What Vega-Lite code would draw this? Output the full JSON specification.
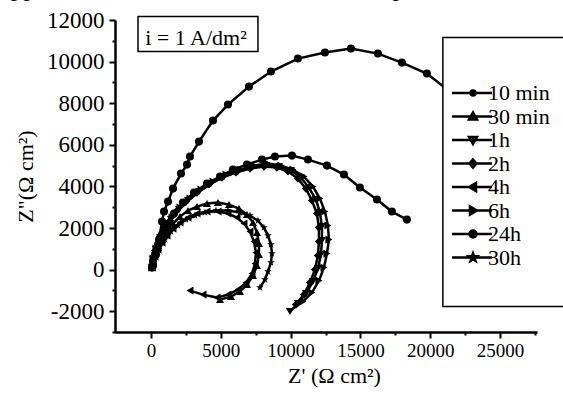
{
  "$schema": "https://vega.github.io/schema/vega-lite/v6.json",
  "width": 422,
  "height": 312,
  "autosize": {"type": "none"},
  "padding": {"left": 115, "top": 20, "right": 26, "bottom": 65},
  "background": "white",
  "config": {
    "view": {"stroke": null},
    "axis": {
      "grid": false,
      "domainColor": "black",
      "domainWidth": 2.5,
      "tickColor": "black",
      "tickWidth": 2,
      "labelColor": "black",
      "labelFont": "Liberation Serif",
      "titleFont": "Liberation Serif",
      "titleFontWeight": "normal",
      "titleColor": "black",
      "titleFontSize": 22,
      "labelOverlap": false,
      "labelFlush": false
    }
  },
  "datasets": {
    "curves": [
      {"s":"10 min","i":0,"x":150,"y":200},{"s":"10 min","i":1,"x":360,"y":720},{"s":"10 min","i":2,"x":573,"y":1442},{"s":"10 min","i":3,"x":788,"y":2308},{"s":"10 min","i":4,"x":931,"y":2789},{"s":"10 min","i":5,"x":1217,"y":3269},{"s":"10 min","i":6,"x":1575,"y":3894},{"s":"10 min","i":7,"x":2148,"y":4616},{"s":"10 min","i":8,"x":2578,"y":5048},{"s":"10 min","i":9,"x":2792,"y":5433},{"s":"10 min","i":10,"x":3437,"y":6154},{"s":"10 min","i":11,"x":4439,"y":7164},{"s":"10 min","i":12,"x":5513,"y":7933},{"s":"10 min","i":13,"x":7017,"y":8798},{"s":"10 min","i":14,"x":8592,"y":9520},{"s":"10 min","i":15,"x":10525,"y":10145},{"s":"10 min","i":16,"x":12458,"y":10433},{"s":"10 min","i":17,"x":14320,"y":10626},{"s":"10 min","i":18,"x":16253,"y":10385},{"s":"10 min","i":19,"x":17972,"y":9952},{"s":"10 min","i":20,"x":19762,"y":9424},{"s":"10 min","i":21,"x":21766,"y":8366},{"s":"10 min","i":22,"x":23200,"y":7600},

      {"s":"24h","i":0,"x":72,"y":96},{"s":"24h","i":1,"x":143,"y":385},{"s":"24h","i":2,"x":286,"y":721},{"s":"24h","i":3,"x":501,"y":1202},{"s":"24h","i":4,"x":788,"y":1683},{"s":"24h","i":5,"x":1146,"y":2164},{"s":"24h","i":6,"x":1647,"y":2693},{"s":"24h","i":7,"x":2291,"y":3221},{"s":"24h","i":8,"x":3079,"y":3702},{"s":"24h","i":9,"x":4010,"y":4135},{"s":"24h","i":10,"x":4940,"y":4471},{"s":"24h","i":11,"x":5871,"y":4808},{"s":"24h","i":12,"x":6874,"y":5048},{"s":"24h","i":13,"x":7948,"y":5289},{"s":"24h","i":14,"x":8878,"y":5433},{"s":"24h","i":15,"x":10096,"y":5481},{"s":"24h","i":16,"x":11241,"y":5289},{"s":"24h","i":17,"x":12602,"y":5000},{"s":"24h","i":18,"x":13819,"y":4568},{"s":"24h","i":19,"x":14965,"y":3943},{"s":"24h","i":20,"x":16182,"y":3366},{"s":"24h","i":21,"x":17256,"y":2789},{"s":"24h","i":22,"x":18330,"y":2404},

      {"s":"1h","i":0,"x":72,"y":96},{"s":"1h","i":1,"x":143,"y":481},{"s":"1h","i":2,"x":358,"y":962},{"s":"1h","i":3,"x":644,"y":1442},{"s":"1h","i":4,"x":1002,"y":1923},{"s":"1h","i":5,"x":1432,"y":2404},{"s":"1h","i":6,"x":2005,"y":2885},{"s":"1h","i":7,"x":2649,"y":3318},{"s":"1h","i":8,"x":3437,"y":3750},{"s":"1h","i":9,"x":4296,"y":4135},{"s":"1h","i":10,"x":5227,"y":4471},{"s":"1h","i":11,"x":6229,"y":4712},{"s":"1h","i":12,"x":7232,"y":4904},{"s":"1h","i":13,"x":8234,"y":5000},{"s":"1h","i":14,"x":9165,"y":4952},{"s":"1h","i":15,"x":10024,"y":4760},{"s":"1h","i":16,"x":10740,"y":4423},{"s":"1h","i":17,"x":11313,"y":3943},{"s":"1h","i":18,"x":11814,"y":3366},{"s":"1h","i":19,"x":12100,"y":2741},{"s":"1h","i":20,"x":12244,"y":2067},{"s":"1h","i":21,"x":12244,"y":1394},{"s":"1h","i":22,"x":12172,"y":721},{"s":"1h","i":23,"x":11957,"y":48},{"s":"1h","i":24,"x":11599,"y":-577},{"s":"1h","i":25,"x":11098,"y":-1154},{"s":"1h","i":26,"x":10525,"y":-1635},{"s":"1h","i":27,"x":9952,"y":-2019},

      {"s":"6h","i":0,"x":72,"y":96},{"s":"6h","i":1,"x":143,"y":529},{"s":"6h","i":2,"x":358,"y":1010},{"s":"6h","i":3,"x":644,"y":1539},{"s":"6h","i":4,"x":1074,"y":2019},{"s":"6h","i":5,"x":1504,"y":2500},{"s":"6h","i":6,"x":2076,"y":2981},{"s":"6h","i":7,"x":2792,"y":3414},{"s":"6h","i":8,"x":3580,"y":3846},{"s":"6h","i":9,"x":4439,"y":4231},{"s":"6h","i":10,"x":5370,"y":4568},{"s":"6h","i":11,"x":6372,"y":4808},{"s":"6h","i":12,"x":7375,"y":5000},{"s":"6h","i":13,"x":8377,"y":5096},{"s":"6h","i":14,"x":9308,"y":5000},{"s":"6h","i":15,"x":10167,"y":4808},{"s":"6h","i":16,"x":10955,"y":4471},{"s":"6h","i":17,"x":11599,"y":3991},{"s":"6h","i":18,"x":12100,"y":3414},{"s":"6h","i":19,"x":12458,"y":2789},{"s":"6h","i":20,"x":12673,"y":2116},{"s":"6h","i":21,"x":12745,"y":1442},{"s":"6h","i":22,"x":12602,"y":769},{"s":"6h","i":23,"x":12387,"y":96},{"s":"6h","i":24,"x":12029,"y":-529},{"s":"6h","i":25,"x":11528,"y":-1106},{"s":"6h","i":26,"x":10883,"y":-1539},

      {"s":"2h","i":0,"x":72,"y":96},{"s":"2h","i":1,"x":143,"y":433},{"s":"2h","i":2,"x":286,"y":914},{"s":"2h","i":3,"x":573,"y":1394},{"s":"2h","i":4,"x":931,"y":1875},{"s":"2h","i":5,"x":1360,"y":2356},{"s":"2h","i":6,"x":1862,"y":2837},{"s":"2h","i":7,"x":2506,"y":3269},{"s":"2h","i":8,"x":3294,"y":3702},{"s":"2h","i":9,"x":4153,"y":4087},{"s":"2h","i":10,"x":5084,"y":4423},{"s":"2h","i":11,"x":6086,"y":4664},{"s":"2h","i":12,"x":7088,"y":4856},{"s":"2h","i":13,"x":8091,"y":4952},{"s":"2h","i":14,"x":9022,"y":4904},{"s":"2h","i":15,"x":9809,"y":4712},{"s":"2h","i":16,"x":10525,"y":4375},{"s":"2h","i":17,"x":11098,"y":3894},{"s":"2h","i":18,"x":11528,"y":3318},{"s":"2h","i":19,"x":11886,"y":2693},{"s":"2h","i":20,"x":12029,"y":2019},{"s":"2h","i":21,"x":12029,"y":1346},{"s":"2h","i":22,"x":11957,"y":673},{"s":"2h","i":23,"x":11742,"y":0},{"s":"2h","i":24,"x":11384,"y":-625},{"s":"2h","i":25,"x":10955,"y":-1202},{"s":"2h","i":26,"x":10382,"y":-1683},

      {"s":"30h","i":0,"x":72,"y":96},{"s":"30h","i":1,"x":143,"y":385},{"s":"30h","i":2,"x":358,"y":721},{"s":"30h","i":3,"x":644,"y":1106},{"s":"30h","i":4,"x":1002,"y":1442},{"s":"30h","i":5,"x":1432,"y":1827},{"s":"30h","i":6,"x":1933,"y":2116},{"s":"30h","i":7,"x":2506,"y":2404},{"s":"30h","i":8,"x":3150,"y":2596},{"s":"30h","i":9,"x":3866,"y":2741},{"s":"30h","i":10,"x":4654,"y":2837},{"s":"30h","i":11,"x":5513,"y":2837},{"s":"30h","i":12,"x":6372,"y":2741},{"s":"30h","i":13,"x":7088,"y":2596},{"s":"30h","i":14,"x":7661,"y":2356},{"s":"30h","i":15,"x":8091,"y":2019},{"s":"30h","i":16,"x":8377,"y":1635},{"s":"30h","i":17,"x":8592,"y":1202},{"s":"30h","i":18,"x":8664,"y":769},{"s":"30h","i":19,"x":8592,"y":337},{"s":"30h","i":20,"x":8377,"y":-96},{"s":"30h","i":21,"x":8162,"y":-481},{"s":"30h","i":22,"x":7804,"y":-865},

      {"s":"30 min","i":0,"x":72,"y":96},{"s":"30 min","i":1,"x":143,"y":385},{"s":"30 min","i":2,"x":286,"y":721},{"s":"30 min","i":3,"x":501,"y":1058},{"s":"30 min","i":4,"x":788,"y":1442},{"s":"30 min","i":5,"x":1146,"y":1827},{"s":"30 min","i":6,"x":1575,"y":2212},{"s":"30 min","i":7,"x":2076,"y":2548},{"s":"30 min","i":8,"x":2649,"y":2837},{"s":"30 min","i":9,"x":3294,"y":3029},{"s":"30 min","i":10,"x":4010,"y":3173},{"s":"30 min","i":11,"x":4797,"y":3221},{"s":"30 min","i":12,"x":5585,"y":3125},{"s":"30 min","i":13,"x":6301,"y":2933},{"s":"30 min","i":14,"x":6874,"y":2644},{"s":"30 min","i":15,"x":7303,"y":2260},{"s":"30 min","i":16,"x":7590,"y":1779},{"s":"30 min","i":17,"x":7733,"y":1250},{"s":"30 min","i":18,"x":7733,"y":721},{"s":"30 min","i":19,"x":7590,"y":192},{"s":"30 min","i":20,"x":7303,"y":-288},{"s":"30 min","i":21,"x":6874,"y":-721},{"s":"30 min","i":22,"x":6372,"y":-1058},{"s":"30 min","i":23,"x":5728,"y":-1298},{"s":"30 min","i":24,"x":4940,"y":-1442},

      {"s":"4h","i":0,"x":72,"y":96},{"s":"4h","i":1,"x":143,"y":337},{"s":"4h","i":2,"x":286,"y":625},{"s":"4h","i":3,"x":501,"y":962},{"s":"4h","i":4,"x":788,"y":1298},{"s":"4h","i":5,"x":1146,"y":1635},{"s":"4h","i":6,"x":1575,"y":1971},{"s":"4h","i":7,"x":2076,"y":2260},{"s":"4h","i":8,"x":2649,"y":2500},{"s":"4h","i":9,"x":3294,"y":2693},{"s":"4h","i":10,"x":4010,"y":2789},{"s":"4h","i":11,"x":4797,"y":2789},{"s":"4h","i":12,"x":5513,"y":2693},{"s":"4h","i":13,"x":6158,"y":2500},{"s":"4h","i":14,"x":6659,"y":2212},{"s":"4h","i":15,"x":7088,"y":1827},{"s":"4h","i":16,"x":7375,"y":1346},{"s":"4h","i":17,"x":7518,"y":817},{"s":"4h","i":18,"x":7446,"y":288},{"s":"4h","i":19,"x":7232,"y":-192},{"s":"4h","i":20,"x":6802,"y":-625},{"s":"4h","i":21,"x":6229,"y":-962},{"s":"4h","i":22,"x":5513,"y":-1202},{"s":"4h","i":23,"x":4726,"y":-1346},{"s":"4h","i":24,"x":3723,"y":-1202},{"s":"4h","i":25,"x":2792,"y":-1010}
    ],
    "labelbox": [{"x": -931, "x2": 7661, "y": 12164, "y2": 10481}],
    "label": [{"x": 3222, "y": 10818, "text": "i = 1 A/dm²"}],
    "caption": [{"x": -10961, "y": 13135, "text": "opposite to the variation of icorr and Ep. Therefore, the"}],
    "legendbox": [{"x": 20907, "x2": 31000, "y": 11155, "y2": -1779}]
  },
  "encoding": {
    "x": {
      "field": "x", "type": "quantitative",
      "scale": {"domain": [-2580, 27650], "nice": false, "zero": false},
      "axis": {
        "title": "Z' (Ω cm²)",
        "values": [0,2500,5000,7500,10000,12500,15000,17500,20000,22500,25000,27500],
        "labelExpr": "datum.value % 5000 === 0 ? '' + datum.value : ''",
        "labelFontSize": 19,
        "labelPadding": 3,
        "tickSize": {"condition": {"test": "datum.value % 5000 === 0", "value": 6}, "value": 3},
        "titleX": 219,
        "titleY": 50,
        "titleBaseline": "alphabetic",
        "titleAnchor": "middle"
      }
    },
    "y": {
      "field": "y", "type": "quantitative",
      "scale": {"domain": [-3000, 12000], "nice": false, "zero": false},
      "axis": {
        "title": "Z\"(Ω cm²)",
        "values": [-3000,-2000,-1000,0,1000,2000,3000,4000,5000,6000,7000,8000,9000,10000,11000,12000],
        "labelExpr": "datum.value % 2000 === 0 ? '' + datum.value : ''",
        "labelFontSize": 23,
        "labelPadding": 5,
        "tickSize": {"condition": {"test": "datum.value % 2000 === 0", "value": 6}, "value": 3},
        "titleX": -78,
        "titleY": 156,
        "titleAnchor": "middle"
      }
    }
  },
  "layer": [
    {
      "data": {"name": "curves"},
      "mark": {"type": "line", "color": "black", "strokeWidth": 2.5},
      "encoding": {
        "detail": {"field": "s", "type": "nominal"},
        "order": {"field": "i", "type": "quantitative"}
      }
    },
    {
      "data": {"name": "curves"},
      "mark": {"type": "point", "filled": true, "color": "black", "opacity": 1, "size": 65},
      "encoding": {
        "shape": {
          "field": "s", "type": "nominal",
          "scale": {
            "domain": ["10 min","30 min","1h","2h","4h","6h","24h","30h"],
            "range": ["circle","triangle-up","triangle-down","diamond","triangle-left","triangle-right","circle","M0,-1L0.235,-0.324L0.951,-0.309L0.38,0.124L0.588,0.809L0,0.4L-0.588,0.809L-0.38,0.124L-0.951,-0.309L-0.235,-0.324Z"]
          },
          "legend": null
        }
      }
    },
    {
      "data": {"name": "labelbox"},
      "mark": {"type": "rect", "fill": "white", "stroke": "black", "strokeWidth": 1.5},
      "encoding": {
        "x2": {"field": "x2"},
        "y2": {"field": "y2"}
      }
    },
    {
      "data": {"name": "label"},
      "mark": {"type": "text", "font": "Liberation Serif", "fontSize": 22, "color": "black", "align": "center", "baseline": "alphabetic"},
      "encoding": {"text": {"field": "text"}}
    },
    {
      "data": {"name": "caption"},
      "mark": {"type": "text", "font": "Liberation Serif", "fontSize": 25.5, "color": "black", "align": "left", "baseline": "alphabetic"},
      "encoding": {"text": {"field": "text"}}
    },
    {
      "data": {"name": "legendbox"},
      "mark": {"type": "rect", "fill": "white", "stroke": "black", "strokeWidth": 1.5},
      "encoding": {
        "x2": {"field": "x2"},
        "y2": {"field": "y2"}
      }
    },
    {
      "data": {"name": "curves"},
      "transform": [{"filter": "false"}],
      "mark": {"type": "point", "filled": false, "color": "black", "strokeWidth": 2.5},
      "encoding": {
        "shape": {
          "field": "s", "type": "nominal",
          "scale": {
            "domain": ["10 min","30 min","1h","2h","4h","6h","24h","30h"],
            "range": [
              "M-1,0H7M3.7,0A0.5,0.5,0,1,1,2.7,0A0.5,0.5,0,1,1,3.7,0ZM3.2,-0.25V0.25",
              "M-1,0H7M3.2,-0.8L4.0,0.6L2.4,0.6ZM3.2,-0.3V0.4",
              "M-1,0H7M3.2,0.8L4.0,-0.6L2.4,-0.6ZM3.2,0.3V-0.4",
              "M-1,0H7M3.2,-0.8L3.9,0L3.2,0.8L2.5,0ZM3.2,-0.3V0.3",
              "M-1,0H7M2.4,0L3.8,-0.8L3.8,0.8ZM3.4,-0.4V0.4",
              "M-1,0H7M4.0,0L2.6,-0.8L2.6,0.8ZM3.0,-0.4V0.4",
              "M-1,0H7M3.9,0A0.7,0.7,0,1,1,2.5,0A0.7,0.7,0,1,1,3.9,0ZM3.5,0A0.3,0.3,0,1,1,2.9,0A0.3,0.3,0,1,1,3.5,0Z",
              "M-1,0H7M3.2,-0.8L3.388,-0.259L3.961,-0.247L3.504,0.099L3.67,0.647L3.2,0.32L2.73,0.647L2.896,0.099L2.439,-0.247L3.012,-0.259Z"
            ]
          },
          "legend": {
            "orient": "none",
            "legendX": 331,
            "legendY": 62,
            "title": null,
            "padding": 0,
            "symbolSize": 100,
            "symbolFillColor": "black",
            "symbolStrokeColor": "black",
            "symbolStrokeWidth": 2.5,
            "symbolOpacity": 1,
            "labelFont": "Liberation Serif",
            "labelFontSize": 22,
            "labelColor": "black",
            "labelOffset": 20,
            "rowPadding": 1.5,
            "labelLimit": 300
          }
        }
      }
    }
  ],
  "resolve": {"scale": {"shape": "independent"}, "legend": {"shape": "independent"}}
}
